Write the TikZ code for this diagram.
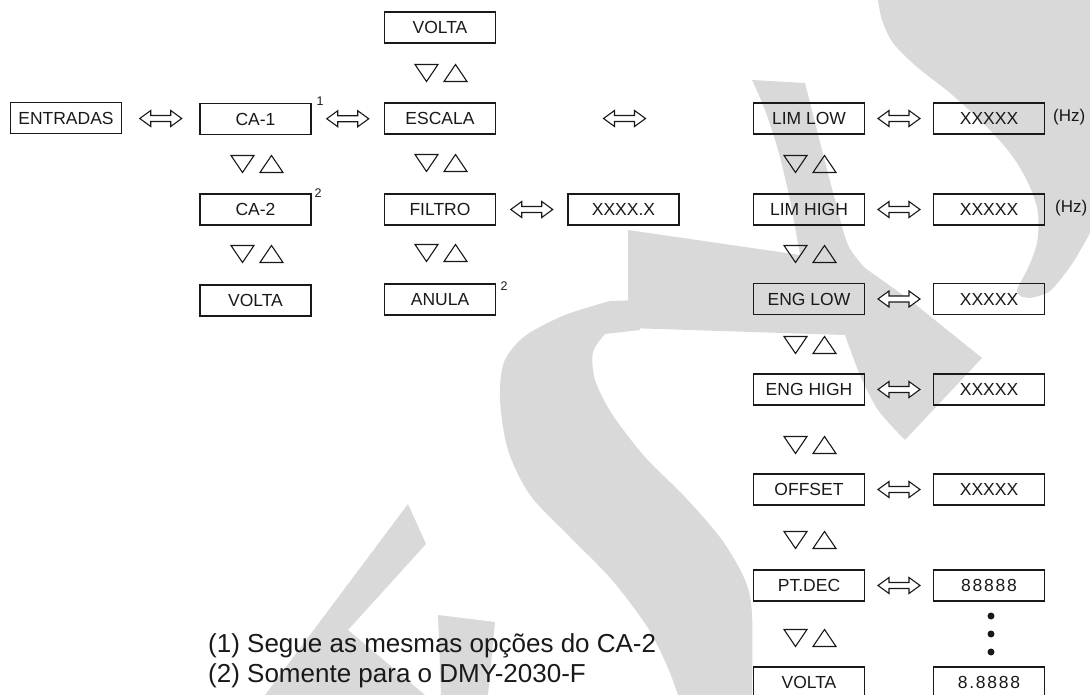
\documentclass[tikz,border=0pt]{standalone}
\usepackage{fontspec}
\setmainfont{Liberation Sans}
\usetikzlibrary{calc}
\definecolor{wm}{RGB}{217,217,217}
\definecolor{ink}{RGB}{25,25,25}
\newcommand{\dblarr}[2]{%
  \path (#1.east) -- (#2.west) coordinate[pos=0.5] (m-#1-#2);
  \draw[arr] ([shift={(-21pt,0pt)}]m-#1-#2) -- ++(11pt,8pt) -- ++(0pt,-5pt) -- ++(20pt,0pt) -- ++(0pt,5pt) -- ++(11pt,-8pt) -- ++(-11pt,-8pt) -- ++(0pt,5pt) -- ++(-20pt,0pt) -- ++(0pt,-5pt) -- cycle;}
\begin{document}
\begin{tikzpicture}[x=1pt,y=-1pt,
  box/.style={draw=ink, line width=1.3pt, minimum width=111pt, minimum height=31pt, inner sep=0pt, font=\fontsize{17.5}{19}\selectfont, text=ink},
  digits/.style={font=\fontsize{17.5}{19}\selectfont\addfontfeature{LetterSpace=10}},
  sup/.style={inner sep=0pt, font=\fontsize{12.5}{14}\selectfont, text=ink},
  hz/.style={inner sep=0pt, anchor=west, font=\fontsize{17}{19}\selectfont, text=ink},
  note/.style={inner sep=0pt, anchor=base west, font=\fontsize{26}{28}\selectfont, text=ink},
  arr/.style={draw=ink, line width=1.1pt, fill=white, line join=miter},
  tri/.style={draw=ink, line width=1.1pt, line join=miter},
  updown/.style={minimum width=56pt, minimum height=21pt, inner sep=0pt,
    path picture={
      \draw[tri] ([shift={(-26pt,8.5pt)}]path picture bounding box.center) -- ++(23pt,0pt) -- ++(-11.5pt,-17pt) -- cycle;
      \draw[tri] ([shift={(3pt,-8.5pt)}]path picture bounding box.center) -- ++(23pt,0pt) -- ++(-11.5pt,17pt) -- cycle;}},
  dot/.style={circle, fill=ink, inner sep=0pt, minimum size=7pt}]
\useasboundingbox (0,0) rectangle (1090,695);
% ---- watermark ----
\fill[wm] plot[smooth] coordinates {(878,0) (882,20) (893,43) (917,67) (950,93) (987,127) (1013,157) (1030,187) (1038,213) (1037,243) (1028,268) (1017,290) (1022,297)}
  -- plot[smooth] coordinates {(1030,298) (1050,291) (1072,264) (1090,233)} -- (1090,0) -- cycle;
\fill[wm] (752,80) -- (805,83) -- plot[smooth] coordinates {(805,83) (822,150) (835,200) (848,245) (865,268)}
  -- (910,300) -- (982,358) -- (905,440)
  -- plot[smooth] coordinates {(905,440) (878,410) (860,375) (845,335)}
  -- (628,328) -- (628,230) -- (800,255)
  -- plot[smooth] coordinates {(800,255) (790,200) (778,150) (765,110) (752,80)} -- cycle;
\fill[wm] (640,300) -- plot[smooth] coordinates {(610,301) (565,315) (525,336) (504,362) (500,400) (508,450) (530,495) (570,537) (612,580) (648,628) (668,668) (678,695)}
  -- (752,695) -- plot[smooth] coordinates {(752,695) (752,614) (745,580) (722,540) (685,497) (645,457) (612,414) (595,380) (593,352) (605,334)} -- (640,330) -- cycle;
\fill[wm] (408,504) -- (426,544) -- (348,630) -- (425,695) -- (265,695) -- cycle;
\fill[wm] (438,615) -- (495,622) -- (488,695) -- (441,695) -- cycle;
% ---- column 1 ----
\node[box] (entradas) at (66,118) {ENTRADAS};
\node[box] (ca1) at (255.5,119) {CA-1};
\node[box] (ca2) at (255.5,209.5) {CA-2};
\node[box] (volta1) at (255.5,300.5) {VOLTA};
\node[updown] (t11) at (257,164) {};
\node[updown] (t12) at (257,254) {};
\node[sup] (s1) at (320,101) {1};
\node[sup] (s2) at (318,193) {2};
% ---- column 2 ----
\node[box] (volta2) at (440,27.5) {VOLTA};
\node[box] (escala) at (440,118.5) {ESCALA};
\node[box] (filtro) at (440,209.5) {FILTRO};
\node[box] (anula) at (440,299.5) {ANULA};
\node[box] (xx) at (623.5,209.5) {XXXX.X};
\node[updown] (t20) at (441,73) {};
\node[updown] (t21) at (441,163) {};
\node[updown] (t22) at (441,253) {};
\node[sup] (s3) at (504,286) {2};
% ---- column 3 ----
\node[box] (limlow) at (809,118.5) {LIM LOW};
\node[box] (limhigh) at (809,209.5) {LIM HIGH};
\node[box] (englow) at (809,299) {ENG LOW};
\node[box] (enghigh) at (809,389.5) {ENG HIGH};
\node[box] (offset) at (809,489.5) {OFFSET};
\node[box] (ptdec) at (809,585.5) {PT.DEC};
\node[box] (volta3) at (809,682.5) {VOLTA};
\node[updown] (t31) at (810,164) {};
\node[updown] (t32) at (810,254) {};
\node[updown] (t33) at (810,345) {};
\node[updown] (t34) at (810,445) {};
\node[updown] (t35) at (810,540) {};
\node[updown] (t36) at (810,638) {};
% ---- column 4 ----
\node[box] (v1) at (989,118.5) {XXXXX};
\node[box] (v2) at (989,209.5) {XXXXX};
\node[box] (v3) at (989,299) {XXXXX};
\node[box] (v4) at (989,389.5) {XXXXX};
\node[box] (v5) at (989,489.5) {XXXXX};
\node[box, digits] (v6) at (989,585.5) {88888};
\node[box, digits] (v7) at (989,682.5) {8.8888};
\node[dot] (d1) at (991,616) {};
\node[dot] (d2) at (991,634) {};
\node[dot] (d3) at (991,652) {};
\node[hz] (hz1) at (1053,117) {(Hz)};
\node[hz] (hz2) at (1055,208) {(Hz)};
% ---- arrows ----
\dblarr{entradas}{ca1}
\dblarr{ca1}{escala}
\dblarr{escala}{limlow}
\dblarr{filtro}{xx}
\dblarr{limlow}{v1}
\dblarr{limhigh}{v2}
\dblarr{englow}{v3}
\dblarr{enghigh}{v4}
\dblarr{offset}{v5}
\dblarr{ptdec}{v6}
% ---- notes ----
\node[note] (n1) at (208,652) {(1) Segue as mesmas opções do CA-2};
\node[note] (n2) at (208,682) {(2) Somente para o DMY-2030-F};
\end{tikzpicture}
\end{document}
